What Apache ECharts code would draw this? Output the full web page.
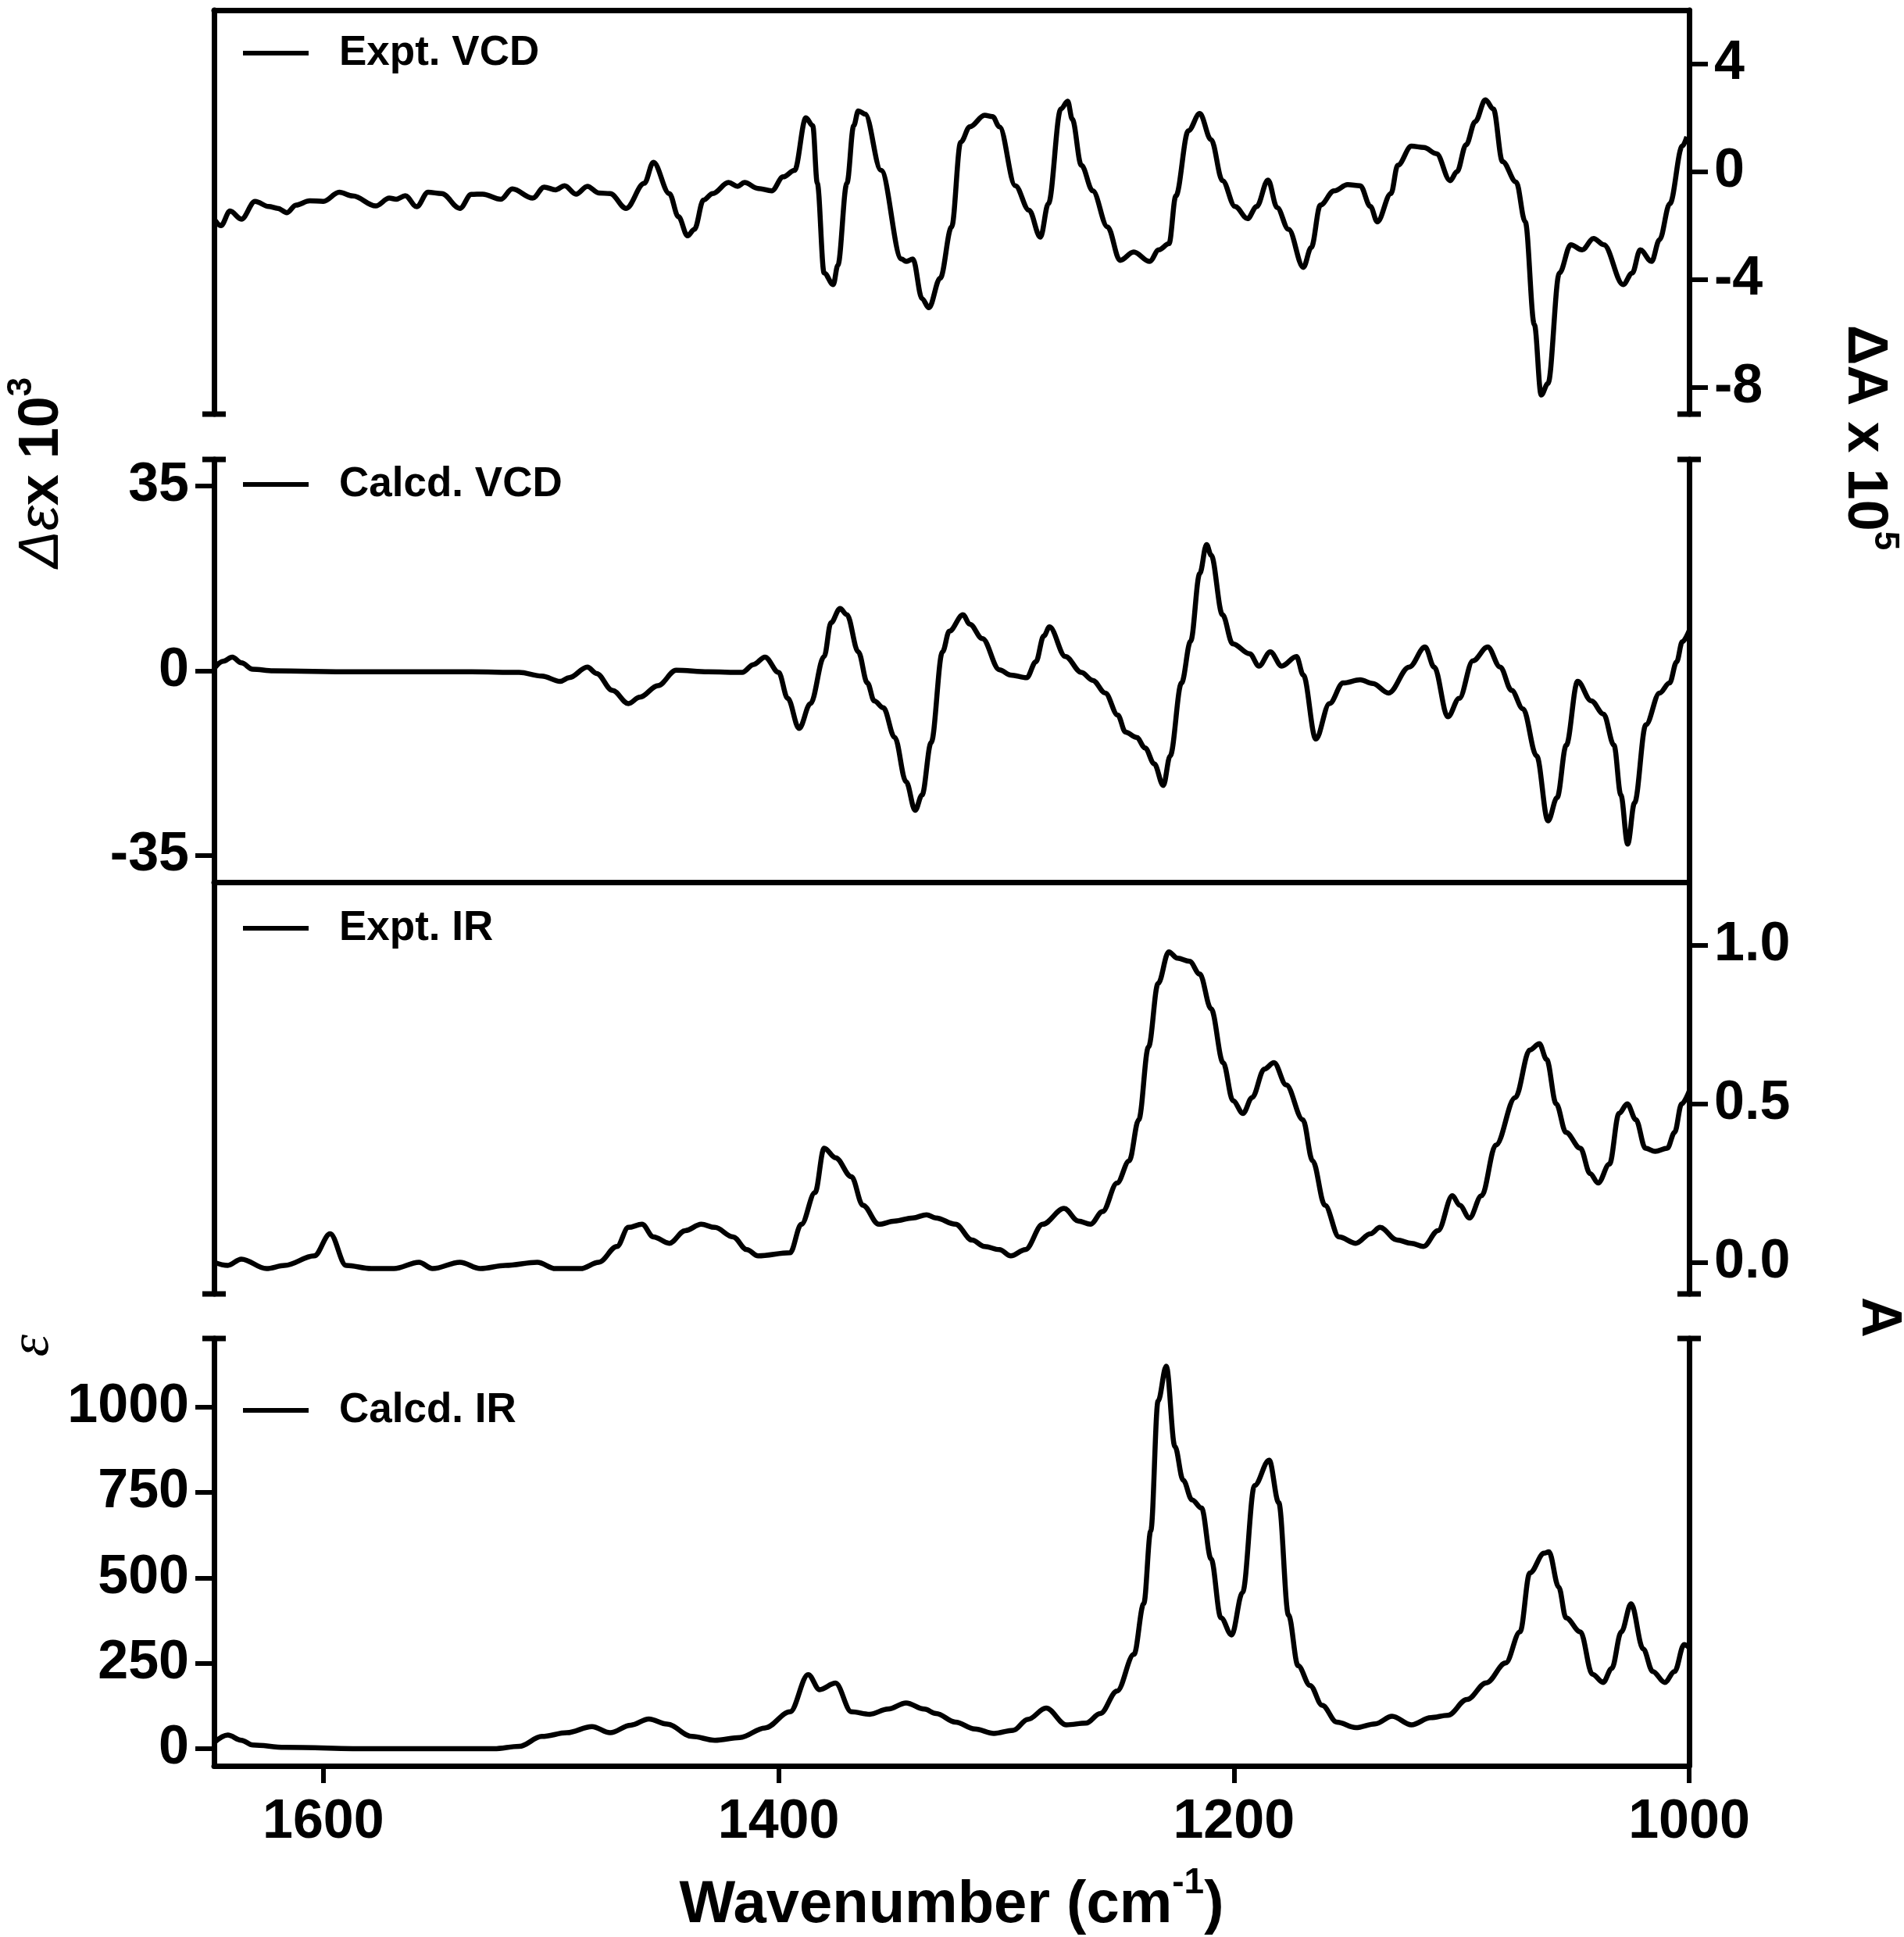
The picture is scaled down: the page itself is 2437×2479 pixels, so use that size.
<!DOCTYPE html>
<html><head><meta charset="utf-8">
<script src="https://cdn.jsdelivr.net/npm/echarts@6/dist/echarts.min.js"></script>
<style>html,body{margin:0;padding:0;background:#fff}#c{width:2437px;height:2479px}</style>
</head><body><div id="c"></div>
<script>
// ---- data: [wavenumber (cm-1), value] ----
const exptVcd = [[1648,-1.75],[1645,-2.0],[1641,-1.46],[1636,-1.76],[1630,-1.10],[1624,-1.29],[1620,-1.36],[1616,-1.52],[1612,-1.24],[1606,-1.08],[1600,-1.10],[1593,-0.76],[1587,-0.90],[1577,-1.27],[1571,-0.98],[1568,-1.02],[1564,-0.89],[1559,-1.30],[1554,-0.76],[1548,-0.81],[1540,-1.36],[1535,-0.84],[1530,-0.83],[1522,-1.02],[1517,-0.64],[1508,-0.98],[1503,-0.57],[1498,-0.67],[1494,-0.52],[1489,-0.83],[1484,-0.54],[1479,-0.79],[1474,-0.81],[1467,-1.36],[1459,-0.43],[1455,0.35],[1448,-0.81],[1444,-1.67],[1440,-2.38],[1437,-2.14],[1433,-1.05],[1429,-0.81],[1422,-0.40],[1418,-0.54],[1415,-0.40],[1409,-0.62],[1403,-0.71],[1398,-0.19],[1393,0.05],[1388,2.0],[1385,1.71],[1383,-0.43],[1380,-3.76],[1376,-4.19],[1374,-3.48],[1370,-0.43],[1367,1.71],[1365,2.26],[1362,2.14],[1355,0.05],[1346,-3.24],[1344,-3.33],[1341,-3.24],[1337,-4.71],[1334,-5.05],[1329,-3.95],[1324,-2.05],[1320,1.10],[1316,1.67],[1309.5,2.10],[1306,2.05],[1303,1.67],[1296,-0.52],[1290,-1.43],[1285,-2.43],[1281.5,-1.19],[1276,2.33],[1273,2.62],[1271,1.95],[1267,0.24],[1262,-0.71],[1255.5,-2.05],[1250,-3.29],[1244,-2.98],[1237,-3.33],[1233,-2.90],[1228.5,-2.67],[1225.5,-0.90],[1220,1.52],[1215,2.16],[1210,1.19],[1205,-0.33],[1199.5,-1.29],[1194,-1.74],[1190,-1.29],[1185,-0.31],[1181,-1.33],[1176,-2.14],[1169.5,-3.55],[1166,-2.81],[1162,-1.24],[1156,-0.71],[1150,-0.48],[1144.5,-0.52],[1140,-1.29],[1137,-1.86],[1131,-0.81],[1128,0.24],[1122,0.95],[1116.5,0.90],[1111,0.67],[1105,-0.33],[1102,0.0],[1098,1.0],[1094,1.86],[1089.5,2.67],[1086,2.33],[1082,0.38],[1076,-0.38],[1072,-1.86],[1068,-5.67],[1065,-8.29],[1062,-7.86],[1057,-3.76],[1052,-2.71],[1047,-2.90],[1042,-2.48],[1037.5,-2.71],[1029,-4.19],[1025,-3.76],[1021.5,-2.90],[1016.5,-3.33],[1013,-2.52],[1008.5,-1.19],[1003,0.95],[1001,1.3]];

const calcdVcd = [[1648,0.4],[1644,1.8],[1640,2.6],[1636,1.5],[1631,0.3],[1622,0],[1587,-0.2],[1535,-0.2],[1514,-0.3],[1504,-1.0],[1496,-2.0],[1492,-1.3],[1484,0.7],[1480,-0.5],[1473,-3.7],[1466,-6.2],[1461,-5.0],[1453,-2.8],[1445,0.1],[1431,-0.2],[1416,-0.3],[1411,1.2],[1406,2.6],[1400,-0.3],[1396,-5.2],[1391,-10.9],[1386,-6.2],[1380,2.7],[1377,9.1],[1373,11.8],[1370,10.6],[1365,3.6],[1361,-2.3],[1358,-5.7],[1354,-7.0],[1349,-12.6],[1344,-21.0],[1340,-26.4],[1337,-23.5],[1333,-13.6],[1328,3.6],[1325,7.5],[1319,10.6],[1316,8.8],[1310.5,6.1],[1303,0.2],[1298,-0.8],[1291,-1.3],[1287,1.7],[1283.5,6.6],[1281,8.3],[1274,2.7],[1267,-0.3],[1262,-1.8],[1256.5,-4.2],[1251,-8.4],[1247.6,-11.6],[1242.7,-12.6],[1239,-14.6],[1235,-17.6],[1231,-21.7],[1228,-16.1],[1223,-2.3],[1219,5.6],[1215,18.4],[1212,23.9],[1210,21.9],[1205,10.6],[1200.5,5.1],[1193,3.2],[1189,0.9],[1184,3.6],[1179,0.9],[1172.5,2.7],[1169.5,-0.8],[1164,-12.9],[1158,-6.2],[1152,-2.3],[1144.5,-1.7],[1139,-2.4],[1132,-4.2],[1123,0.7],[1116,4.5],[1112,0.7],[1106,-8.7],[1101,-5.2],[1095,1.9],[1088.5,4.5],[1083,0.7],[1078,-3.7],[1073,-7.2],[1067,-16.1],[1062,-28.4],[1058,-24.0],[1054,-14.1],[1049,-2.0],[1043,-5.7],[1037.6,-8.2],[1033,-14.1],[1030,-23.5],[1027,-32.8],[1024,-25.0],[1019,-10.2],[1013,-4.2],[1008.6,-2.3],[1005.5,1.7],[1003,5.5],[1000,7.6]];

const exptIr = [[1648,0.0],[1642,-0.01],[1636,0.01],[1625,-0.02],[1617,-0.01],[1604,0.02],[1597,0.09],[1590,-0.01],[1579,-0.02],[1569,-0.02],[1558,0.0],[1552,-0.02],[1540,0.0],[1531,-0.02],[1520,-0.01],[1506,0.0],[1498,-0.02],[1487,-0.02],[1479,0.0],[1471,0.05],[1466,0.11],[1460,0.12],[1455,0.08],[1448,0.06],[1441,0.10],[1434,0.12],[1428,0.11],[1420,0.08],[1414,0.04],[1409,0.02],[1395,0.03],[1390,0.12],[1384,0.22],[1380,0.36],[1375,0.33],[1368,0.27],[1363,0.18],[1356,0.12],[1349,0.13],[1341,0.14],[1335,0.15],[1331,0.14],[1322.3,0.12],[1315,0.07],[1309.6,0.05],[1303,0.04],[1298,0.02],[1291.6,0.04],[1284,0.12],[1274.6,0.17],[1268.3,0.13],[1263,0.12],[1257.7,0.16],[1251.3,0.25],[1246,0.32],[1241.8,0.45],[1237.5,0.68],[1233.3,0.88],[1228.6,0.98],[1224.8,0.96],[1219.5,0.95],[1215,0.91],[1210,0.80],[1204.7,0.63],[1200.4,0.51],[1196,0.47],[1192,0.52],[1186.6,0.61],[1182.4,0.63],[1177,0.56],[1169.7,0.45],[1165.4,0.32],[1160,0.18],[1153.8,0.08],[1146.4,0.06],[1140,0.09],[1135.8,0.11],[1128.3,0.07],[1122,0.06],[1116.7,0.05],[1110.3,0.10],[1104,0.21],[1100.8,0.18],[1096.5,0.14],[1091.2,0.21],[1084.9,0.37],[1076.4,0.52],[1070,0.67],[1065.8,0.69],[1062.6,0.64],[1058.4,0.50],[1054.1,0.41],[1047.8,0.36],[1043.5,0.28],[1040,0.25],[1035,0.31],[1030.8,0.47],[1027.2,0.50],[1023.4,0.45],[1019.2,0.36],[1014.9,0.35],[1009.6,0.36],[1006.4,0.41],[1003.3,0.50],[1000,0.54]];

const calcdIr = [[1648,18],[1642,40],[1636,25],[1631,11],[1617,4],[1579,0],[1525,0],[1514,7],[1504,36],[1493,47],[1482,65],[1474,47],[1465,69],[1457,87],[1449,72],[1438,36],[1428,25],[1417,33],[1406,61],[1395,108],[1387,217],[1382,173],[1375,192],[1368,108],[1360,101],[1352,116],[1344,134],[1336,116],[1330.8,103],[1322.3,78],[1313.8,58],[1305.4,45],[1296.9,54],[1290.5,86],[1282.5,119],[1273.6,70],[1265,75],[1258.7,103],[1251.3,169],[1243.9,276],[1239.6,424],[1236.5,638],[1233.3,1017],[1229.7,1119],[1225.9,884],[1222.3,786],[1218.4,728],[1214.2,704],[1210,555],[1205.7,383],[1201,333],[1196.2,457],[1190.9,770],[1184.5,844],[1180.3,720],[1176,391],[1171.8,243],[1166.5,185],[1161.2,127],[1154.8,78],[1146.4,62],[1137.9,73],[1130.5,95],[1122,70],[1113.5,91],[1106,98],[1097.6,144],[1089.1,193],[1080.6,251],[1074.3,342],[1070,514],[1063.7,572],[1061.6,576],[1057.3,473],[1054.1,383],[1047.8,342],[1042.5,218],[1037.8,194],[1034,235],[1029.8,342],[1025.5,424],[1020.2,292],[1016,226],[1010.7,194],[1006.4,226],[1002.2,305],[1000,296]];

// ---- tick values ----
const xTicks = [1000, 1200, 1400, 1600];
const exptVcdTicks = [-8, -4, 0, 4];
const calcdVcdTicks = [-35, 0, 35];
const exptIrTicks = [0, 0.5, 1.0];
const calcdIrTicks = [0, 250, 500, 750, 1000];

const FONT = "'Liberation Sans', Arial, sans-serif";
const LW = 7;
const plain = v => String(v);

function capLine(cap) {
  return {show: true, onZero: false, lineStyle: {color: '#000', width: LW},
    symbol: cap === 'bottom' ? ['rect', 'none'] : ['none', 'rect'], symbolSize: [30, 7]};
}
function tickCfg(vals) { return {show: true, customValues: vals, length: 24, lineStyle: {color: '#000', width: 6}}; }
function labelCfg(vals, fmt) {
  return {show: true, customValues: vals, fontSize: 70, fontWeight: 'bold', color: '#000', fontFamily: FONT, margin: 32,
    formatter: fmt || plain};
}
const none = {show: false};
function xAx(g, pos, extra) {
  return Object.assign({gridIndex: g, type: 'value', min: 1000, max: 1648, inverse: true, position: pos,
    axisLine: {show: true, onZero: false, lineStyle: {color: '#000', width: LW}},
    axisTick: none, axisLabel: none, splitLine: none}, extra || {});
}
function yAx(g, pos, min, max, cap, tick, label) {
  return {gridIndex: g, type: 'value', position: pos, min: min, max: max, axisLine: capLine(cap),
    axisTick: tick || none, axisLabel: label || none, splitLine: none};
}

const grids = [
  {left: 274, right: 275, top: 13, height: 517},
  {left: 274, right: 275, top: 588, height: 541},
  {left: 274, right: 275, top: 1129, height: 527},
  {left: 274, right: 275, top: 1713, height: 547}
];

function legendAt(name, top) {
  return {data: [name], left: 306, top: top, icon: 'rect', itemWidth: 84, itemHeight: 6, selectedMode: false,
    textStyle: {fontSize: 53, fontWeight: 'bold', color: '#000', fontFamily: FONT, lineHeight: 60, padding: [0, 0, 0, 34]}};
}

function lineSeries(name, data, xi, yi) {
  return {name: name, type: 'line', data: data, xAxisIndex: xi, yAxisIndex: yi, showSymbol: false,
    smooth: 0.35, smoothMonotone: 'x', lineStyle: {color: '#000', width: 6.5}, itemStyle: {color: '#000'}};
}

const option = {
  animation: false,
  backgroundColor: '#fff',
  grid: grids,
  xAxis: [
    xAx(0, 'top'),
    xAx(1, 'bottom'),
    xAx(2, 'top', {show: false}),
    xAx(3, 'bottom', {axisTick: {show: true, customValues: xTicks, length: 22, lineStyle: {color: '#000', width: 6}},
      axisLabel: {show: true, customValues: xTicks, fontSize: 70, fontWeight: 'bold', color: '#000', fontFamily: FONT, margin: 38, formatter: plain}})
  ],
  yAxis: [
    yAx(0, 'left', -9, 6, 'bottom'),
    yAx(0, 'right', -9, 6, 'bottom', tickCfg(exptVcdTicks), labelCfg(exptVcdTicks)),
    yAx(1, 'left', -40, 40, 'top', tickCfg(calcdVcdTicks), labelCfg(calcdVcdTicks)),
    yAx(1, 'right', -40, 40, 'top'),
    yAx(2, 'left', -0.1, 1.2, 'bottom'),
    yAx(2, 'right', -0.1, 1.2, 'bottom', tickCfg(exptIrTicks), labelCfg(exptIrTicks, v => v.toFixed(1))),
    yAx(3, 'left', -50, 1200, 'top', tickCfg(calcdIrTicks), labelCfg(calcdIrTicks)),
    yAx(3, 'right', -50, 1200, 'top')
  ],
  legend: [
    legendAt('Expt. VCD', 33),
    legendAt('Calcd. VCD', 585),
    legendAt('Expt. IR', 1153),
    legendAt('Calcd. IR', 1770)
  ],
  series: [
    lineSeries('Expt. VCD', exptVcd, 0, 1),
    lineSeries('Calcd. VCD', calcdVcd, 1, 2),
    lineSeries('Expt. IR', exptIr, 2, 5),
    lineSeries('Calcd. IR', calcdIr, 3, 6)
  ],
  graphic: [
    {type: 'text', x: 48, y: 605, rotation: Math.PI / 2, style: {
      text: '{g|Δε}{n|x 10}{s|3}', align: 'center', verticalAlign: 'middle',
      rich: {
        g: {fontSize: 72, fontStyle: 'italic', fontFamily: FONT, fill: '#000', lineHeight: 84, verticalAlign: 'bottom'},
        n: {fontSize: 72, fontWeight: 'bold', fontFamily: FONT, fill: '#000', lineHeight: 84, verticalAlign: 'bottom'},
        s: {fontSize: 44, fontWeight: 'bold', fontFamily: FONT, fill: '#000', verticalAlign: 'top'}
      }}},
    {type: 'text', x: 42, y: 1722, rotation: Math.PI / 2, style: {
      text: 'ε', align: 'center', verticalAlign: 'middle', fontSize: 72, fontStyle: 'italic', fontFamily: "'Liberation Serif', serif", fill: '#000'}},
    {type: 'text', x: 2392, y: 560, rotation: -Math.PI / 2, style: {
      text: '{n|ΔA x 10}{s|5}', align: 'center', verticalAlign: 'middle',
      rich: {
        n: {fontSize: 72, fontWeight: 'bold', fontFamily: FONT, fill: '#000', lineHeight: 84, verticalAlign: 'bottom'},
        s: {fontSize: 44, fontWeight: 'bold', fontFamily: FONT, fill: '#000', verticalAlign: 'top'}
      }}},
    {type: 'text', x: 2404, y: 1686, rotation: -Math.PI / 2, style: {
      text: 'A', align: 'center', verticalAlign: 'middle', fontSize: 72, fontWeight: 'bold', fontFamily: FONT, fill: '#000'}},
    {type: 'text', x: 1218, y: 2432, style: {
      text: '{n|Wavenumber (cm}{s|-1}{n|)}', align: 'center', verticalAlign: 'middle',
      rich: {
        n: {fontSize: 76, fontWeight: 'bold', fontFamily: FONT, fill: '#000', lineHeight: 90, verticalAlign: 'bottom'},
        s: {fontSize: 46, fontWeight: 'bold', fontFamily: FONT, fill: '#000', verticalAlign: 'top'}
      }}}
  ]
};

const chart = echarts.init(document.getElementById('c'), null, {renderer: 'canvas'});
chart.setOption(option);
</script>
</body></html>
